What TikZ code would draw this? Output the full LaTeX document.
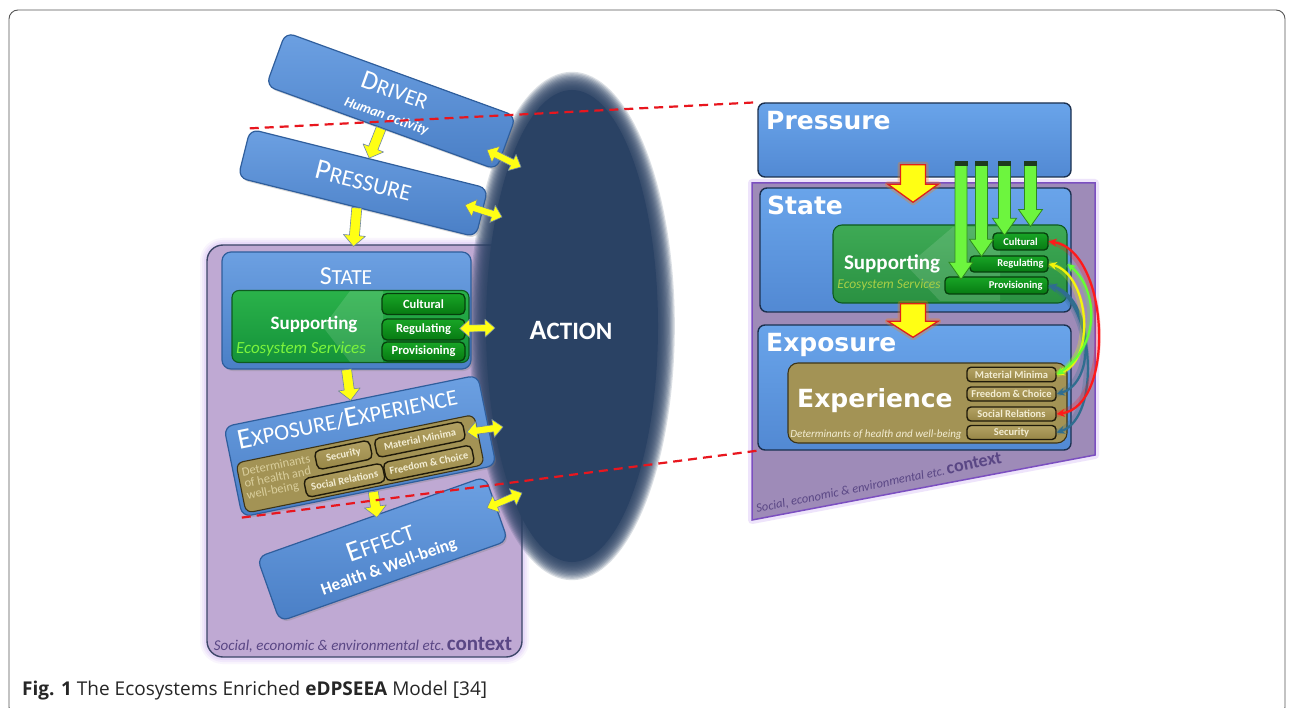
\documentclass[tikz,border=0pt]{standalone}
\usepackage{fontspec}
\setmainfont{Carlito}
\newfontfamily\dvb{DejaVu Sans}
\newfontfamily\capf{Open Sans}
\usetikzlibrary{arrows.meta,shadows,calc}
\newcommand\fsz[1]{\fontsize{#1}{#1}\selectfont}
\definecolor{framegray}{HTML}{555555}
\definecolor{lbtop}{HTML}{6CA0E2}
\definecolor{lbbot}{HTML}{4A7FC6}
\definecolor{lbdraw}{HTML}{2F5E9C}
\definecolor{rbtop}{HTML}{69A4EA}
\definecolor{rbbot}{HTML}{5289D3}
\definecolor{rbdraw}{HTML}{1C3150}
\definecolor{ctxfill}{HTML}{BFA9D3}
\definecolor{ctxdraw}{HTML}{3C4668}
\definecolor{ctxglow}{HTML}{C7A6F2}
\definecolor{ctxtext}{HTML}{5A4785}
\definecolor{rctxfill}{HTML}{9E8BB8}
\definecolor{rctxdraw}{HTML}{7B4FC0}
\definecolor{actblue}{HTML}{2A4264}
\definecolor{gtop}{HTML}{2AB24A}
\definecolor{gbot}{HTML}{14923A}
\definecolor{gdraw}{HTML}{0E5A20}
\definecolor{rgtop}{HTML}{3EAA55}
\definecolor{rgbot}{HTML}{2A9142}
\definecolor{gsubtop}{HTML}{18A526}
\definecolor{gsubbot}{HTML}{077A12}
\definecolor{gsubdraw}{HTML}{063F0C}
\definecolor{ecogreen}{HTML}{7CF53C}
\definecolor{recogreen}{HTML}{A8CF45}
\definecolor{tanfill}{HTML}{A39355}
\definecolor{tandraw}{HTML}{3D3417}
\definecolor{tansubtop}{HTML}{B3A264}
\definecolor{tansubbot}{HTML}{978646}
\definecolor{tansubdraw}{HTML}{1F1A0A}
\definecolor{tantext}{HTML}{F3EDD3}
\definecolor{detext}{HTML}{D9CE9C}
\definecolor{yarr}{HTML}{FFFF14}
\definecolor{yarrdraw}{HTML}{6F86A8}
\definecolor{bigyred}{HTML}{E0201A}
\definecolor{dashred}{HTML}{E8161E}
\definecolor{arrgreen}{HTML}{6DF53E}
\definecolor{arrgreendraw}{HTML}{2F8A1E}
\definecolor{capdark}{HTML}{1E3A1E}
\definecolor{cred}{HTML}{FF1A1A}
\definecolor{cyel}{HTML}{F5F50A}
\definecolor{cgreen}{HTML}{66FF33}
\definecolor{cteal}{HTML}{2F6D8F}
% block arrow: style, from, to, half shaft, half head, head length
\newcommand\barrow[6]{%
 \path[#1] let \p1=(#2), \p2=(#3), \n1={atan2(\y2-\y1,\x2-\x1)} in
 ($(\p1)+({\n1+90}:#4pt)$) --
 ($(\p2)+({\n1+180}:#6pt)+({\n1+90}:#4pt)$) --
 ($(\p2)+({\n1+180}:#6pt)+({\n1+90}:#5pt)$) --
 (\p2) --
 ($(\p2)+({\n1+180}:#6pt)+({\n1-90}:#5pt)$) --
 ($(\p2)+({\n1+180}:#6pt)+({\n1-90}:#4pt)$) --
 ($(\p1)+({\n1-90}:#4pt)$) -- cycle;}
% double block arrow
\newcommand\dbarrow[6]{%
 \path[#1] let \p1=(#2), \p2=(#3), \n1={atan2(\y2-\y1,\x2-\x1)} in
 (\p1) --
 ($(\p1)+(\n1:#6pt)+({\n1+90}:#5pt)$) --
 ($(\p1)+(\n1:#6pt)+({\n1+90}:#4pt)$) --
 ($(\p2)+({\n1+180}:#6pt)+({\n1+90}:#4pt)$) --
 ($(\p2)+({\n1+180}:#6pt)+({\n1+90}:#5pt)$) --
 (\p2) --
 ($(\p2)+({\n1+180}:#6pt)+({\n1-90}:#5pt)$) --
 ($(\p2)+({\n1+180}:#6pt)+({\n1-90}:#4pt)$) --
 ($(\p1)+(\n1:#6pt)+({\n1-90}:#4pt)$) --
 ($(\p1)+(\n1:#6pt)+({\n1-90}:#5pt)$) -- cycle;}
\begin{document}
\begin{tikzpicture}[x=1pt,y=-1pt,
 lbox/.style={draw=lbdraw, line width=1.2pt, rounded corners=9pt, top color=lbtop, bottom color=lbbot, inner sep=0pt, drop shadow={opacity=0.3,shadow xshift=1.5pt,shadow yshift=-2pt}},
 rbox/.style={draw=rbdraw, line width=1.4pt, rounded corners=7pt, top color=rbtop, bottom color=rbbot, inner sep=0pt},
 gbox/.style={draw=gdraw, line width=1.1pt, rounded corners=7pt, top color=gtop, bottom color=gbot, inner sep=0pt},
 rgbox/.style={draw=gdraw, line width=1.1pt, rounded corners=9pt, top color=rgtop, bottom color=rgbot, inner sep=0pt},
 gsub/.style={draw=gsubdraw, line width=1.3pt, rounded corners=5pt, top color=gsubtop, bottom color=gsubbot, inner sep=0pt, text=white, font={\bfseries\fsz{12.5}}},
 rgsub/.style={gsub, rounded corners=4pt, font={\bfseries\fsz{10.5}}},
 tanbox/.style={draw=tandraw, line width=1.1pt, rounded corners=7pt, fill=tanfill, inner sep=0pt},
 tansub/.style={draw=tansubdraw, line width=1.4pt, rounded corners=5pt, top color=tansubtop, bottom color=tansubbot, inner sep=0pt, text=tantext, font={\bfseries\fsz{10.5}}},
 rtansub/.style={tansub, rounded corners=4pt, font={\bfseries\fsz{10.5}}},
 wtxt/.style={text=white, inner sep=0pt},
 yarrow/.style={fill=yarr, draw=yarrdraw, line width=0.6pt, line join=round},
 bigy/.style={fill=yarr, draw=bigyred, line width=1.3pt},
 bigyglow/.style={draw=orange, line width=6pt, opacity=0.3, line join=round},
 garr/.style={fill=arrgreen, draw=arrgreendraw, line width=0.8pt},
 carrow/.style={line width=2.2pt, {Stealth[length=8pt,width=8pt]}-{Stealth[length=8pt,width=8pt]}},
 cglow/.style={line width=6pt, opacity=0.25},
 dashline/.style={draw=dashred, line width=2.2pt, dash pattern=on 9pt off 6pt}
]
\useasboundingbox (0,0) rectangle (1292,708);
\fill[white] (0,0) rectangle (1292,708);
\draw[framegray, line width=0.9pt, rounded corners=9pt] (9,10) rectangle (1285,716);

% ---------- left context ----------
\foreach \w/\o in {14/0.10, 10/0.14, 6/0.2}
  \draw[ctxglow, line width=\w pt, opacity=\o, rounded corners=16pt] (207,245) rectangle (522,657);
\node[draw=ctxdraw, line width=1.4pt, fill=ctxfill, rounded corners=16pt, minimum width=315pt, minimum height=412pt, inner sep=0pt] (lctx) at (364.5,451) {};
\node[anchor=base, text=ctxtext, inner sep=0pt] (lctxt) at (363,650) {{\itshape\fsz{15}Social, economic \& environmental etc.}~{\bfseries\fsz{21}context}};

% ---------- action ellipse ----------
\foreach \i in {14,...,1}
  \fill[actblue, opacity=0.17] (572,326) ellipse [x radius={(86+1.2*\i)*1pt}, y radius={(236+1.3*\i)*1pt}];
\fill[actblue] (572,326) ellipse [x radius=86pt, y radius=236pt];
\node[wtxt, anchor=base, font=\bfseries] (action) at (571,339) {{\fsz{28}A}{\fsz{25}CTION}};

% ---------- driver ----------
\begin{scope}[shift={(391,101)}, rotate=-20, transform shape]
 \node[lbox, minimum width=245pt, minimum height=57pt] (driver) at (0,0) {};
 \node[wtxt, anchor=base] at (0,-3) {{\fsz{27}D}{\fsz{22}RIVER}};
 \node[wtxt, anchor=base, font={\bfseries\itshape\fsz{14}}] at (1,20) {Human activity};
\end{scope}

% ---------- pressure ----------
\begin{scope}[shift={(363,183)}, rotate=-14, transform shape]
 \node[lbox, minimum width=245pt, minimum height=50pt] (lpress) at (0,0) {};
 \node[wtxt, anchor=base] at (0,7) {{\fsz{29}P}{\fsz{23}RESSURE}};
\end{scope}

% ---------- state ----------
\node[lbox, minimum width=249pt, minimum height=117pt] (lstate) at (346.5,310.5) {};
\node[wtxt, anchor=base] at (346,285) {{\fsz{26}S}{\fsz{21.5}TATE}};
\node[gbox, minimum width=237pt, minimum height=72pt] (lsup) at (350.5,326.5) {};
\fill[white, opacity=0.13] (383,291) -- (350,291) -- (323,327) -- (350,362) -- (383,362) -- cycle;
\node[wtxt, anchor=base, font={\bfseries\fsz{19}}] at (314,330) {Supporting};
\node[anchor=base, inner sep=0pt, text=ecogreen, font={\itshape\fsz{17}}] at (301,353) {Ecosystem Services};
\node[gsub, minimum width=83pt, minimum height=21pt] (lcult) at (423.5,304) {Cultural};
\node[gsub, minimum width=83pt, minimum height=21pt] (lreg) at (423.5,329.5) {Regulating};
\node[gsub, minimum width=83pt, minimum height=19pt] (lprov) at (423.5,351.5) {Provisioning};

% ---------- exposure / experience ----------
\begin{scope}[shift={(360,446)}, rotate=11.5, transform shape]
 \node[lbox, minimum width=259pt, minimum height=92pt] (lexp) at (0,0) {};
 \node[wtxt, anchor=base] at (-7,-21) {{\fsz{29}E}{\fsz{22.5}XPOSURE/}{\fsz{29}E}{\fsz{22.5}XPERIENCE}};
 \node[tanbox, minimum width=243pt, minimum height=51pt] (ltan) at (-3.5,17.5) {};
 \node[anchor=west, align=left, inner sep=0pt, text=detext, font={\fontsize{12.5}{12}\selectfont}] at (-121,15) {Determinants\\of health and\\well-being};
 \node[tansub, minimum width=56pt, minimum height=19pt] (lsec) at (-18,5.5) {Security};
 \node[tansub, minimum width=90pt, minimum height=19pt] (lmm) at (60,5.5) {Material Minima};
 \node[tansub, minimum width=80pt, minimum height=19pt] (lsoc) at (-22,30.5) {Social Relations};
 \node[tansub, minimum width=90pt, minimum height=19pt] (lfree) at (64,30.5) {Freedom \& Choice};
\end{scope}

% ---------- effect ----------
\begin{scope}[shift={(382.5,549)}, rotate=19.5, transform shape]
 \node[lbox, minimum width=242pt, minimum height=68pt] (leff) at (0,0) {};
 \node[wtxt, anchor=base] at (0,2) {{\fsz{29}E}{\fsz{23}FFECT}};
 \node[wtxt, anchor=base, font={\bfseries\fsz{17}}] at (0,24) {Health \& Well-being};
\end{scope}

% ---------- left arrows ----------
\barrow{yarrow}{driver.south}{lpress.north}{5}{11}{11}
\barrow{yarrow}{lpress.south}{$(lstate.north)+(7,-5)$}{5}{11}{11}
\barrow{yarrow}{lstate.south}{lexp.north}{5}{11}{11}
\barrow{yarrow}{$(lexp.south)+(4,0)$}{$(leff.north)+(6,1)$}{5}{11}{11}

\coordinate (dA1) at (487,150); \coordinate (dA2) at (521,167);
\coordinate (pA1) at (465,205); \coordinate (pA2) at (502,217);
\coordinate (rA1) at ($(lreg.east)+(-6,-1)$); \coordinate (rA2) at (495,328);
\coordinate (eA1) at (467,432); \coordinate (eA2) at (503,427);
\coordinate (fA1) at (487,508); \coordinate (fA2) at (522,493);
\dbarrow{yarrow}{dA1}{dA2}{3.5}{9}{10}
\dbarrow{yarrow}{pA1}{pA2}{3.5}{9}{10}
\dbarrow{yarrow}{rA1}{rA2}{3.5}{9}{10}
\dbarrow{yarrow}{eA1}{eA2}{3.5}{9}{10}
\dbarrow{yarrow}{fA1}{fA2}{3.5}{9}{10}

% ---------- right context ----------
\draw[ctxglow, line width=8pt, opacity=0.3, line join=round] (752,183) -- (1095,183) -- (1095,455) -- (752,520) -- cycle;
\fill[rctxfill] (752,183) -- (1095,183) -- (1095,455) -- (752,520) -- cycle;
\draw[rctxdraw, line width=1.5pt] (752,183) -- (1095,183) -- (1095,455) -- (752,520) -- cycle;
\node[rotate=11.5, anchor=base west, inner sep=0pt, text=ctxtext] (rctxt) at (757,513) {{\itshape\fsz{12.5}Social, economic \& environmental etc.}~{\bfseries\fsz{18}context}};

% ---------- right boxes ----------
\node[rbox, minimum width=313pt, minimum height=74pt] (rpress) at (914.5,140) {};
\node[wtxt, anchor=base west, font={\dvb\bfseries\fsz{25}}] at (766,130) {Pressure};

\node[rbox, minimum width=311pt, minimum height=124pt] (rstate) at (915.5,250) {};
\node[wtxt, anchor=base west, font={\dvb\bfseries\fsz{25}}] at (767,215) {State};
\node[rgbox, minimum width=234pt, minimum height=78pt] (rsup) at (950,264) {};
\fill[white, opacity=0.12] (1000,227) -- (953,227) -- (907,266) -- (940,301) -- (1000,301) -- cycle;
\node[wtxt, anchor=base, font={\bfseries\fsz{21}}] at (892,270) {Supporting};
\node[anchor=base, inner sep=0pt, text=recogreen, font={\itshape\fsz{13.5}}] at (889,289) {Ecosystem Services};
\node[rgsub, minimum width=55pt, minimum height=17pt] (rcult) at (1020.5,241.5) {Cultural};
\node[rgsub, minimum width=78pt, minimum height=16pt] (rreg) at (1009,264) {};
\node[wtxt, anchor=east, font={\bfseries\fsz{10.5}}] at ($(rreg.east)+(-5,0)$) {Regulating};
\node[rgsub, minimum width=103pt, minimum height=17pt] (rprov) at (996.5,285.5) {};
\node[wtxt, anchor=east, font={\bfseries\fsz{10.5}}] at ($(rprov.east)+(-6,0)$) {Provisioning};

% green arrows
\coordinate (ga) at (961,162); \coordinate (gb) at (981.5,162);
\coordinate (gc) at (1004.5,162); \coordinate (gd) at (1030.5,162);
\barrow{garr}{ga}{$(ga |- rprov.north)+(0,3)$}{6}{12}{17}
\barrow{garr}{gb}{$(gb |- rreg.north)+(0,1)$}{6}{12}{17}
\barrow{garr}{gc}{$(gc |- rcult.north)+(0,3)$}{6}{12}{17}
\barrow{garr}{gd}{$(gd |- rsup.north)+(0,2)$}{6}{12}{17}
\foreach \c in {ga,gb,gc,gd}
  \fill[capdark] ($(\c)+(-6.5,-1)$) rectangle ($(\c)+(6.5,4)$);

% big yellow arrow pressure -> state
\coordinate (ya) at ($(rpress.south)+(-1.5,-13)$);
\coordinate (yb) at ($(rstate.north)+(-2.5,15)$);
\barrow{bigyglow}{ya}{yb}{12.5}{25}{18}
\barrow{bigy}{ya}{yb}{12.5}{25}{18}

\node[rbox, minimum width=313pt, minimum height=125pt] (rexp) at (914.5,387.5) {};
\node[wtxt, anchor=base west, font={\dvb\bfseries\fsz{25}}] at (766,352) {Exposure};
\node[tanbox, rounded corners=10pt, minimum width=279pt, minimum height=80pt] (rtan) at (927.5,403) {};
\node[wtxt, anchor=base west, font={\dvb\bfseries\fsz{25}}] at (797,407) {Experience};
\node[anchor=base, inner sep=0pt, text=tantext, font={\itshape\fsz{11}}] at (876,437) {Determinants of health and well-being};
\node[rtansub, minimum width=89pt, minimum height=14.5pt] (rmm) at (1011.5,374.5) {Material Minima};
\node[rtansub, minimum width=89pt, minimum height=14pt] (rfree) at (1011.5,394) {Freedom \& Choice};
\node[rtansub, minimum width=89pt, minimum height=14pt] (rsoc) at (1011.5,414) {Social Relations};
\node[rtansub, minimum width=89pt, minimum height=14pt] (rsec) at (1011.5,432.5) {Security};

% big yellow arrow state -> exposure
\coordinate (yc) at ($(rstate.south)+(-2.5,-9)$);
\coordinate (yd) at ($(rexp.north)+(-1.5,13)$);
\barrow{bigyglow}{yc}{yd}{12.5}{25}{16}
\barrow{bigy}{yc}{yd}{12.5}{25}{16}

% curved links
\draw[cglow, cteal] (rprov.east) .. controls +(45,15) and +(45,-15) .. (rsec.east);
\draw[carrow, cteal] (rprov.east) .. controls +(45,15) and +(45,-15) .. (rsec.east);
\draw[cglow, cteal] (rprov.east) .. controls +(42,10) and +(42,-12) .. (rfree.east);
\draw[carrow, cteal] (rprov.east) .. controls +(42,10) and +(42,-12) .. (rfree.east);
\draw[cglow, cyel] (rreg.east) .. controls +(40,10) and +(40,-15) .. (rmm.east);
\draw[carrow, cyel] (rreg.east) .. controls +(40,10) and +(40,-15) .. (rmm.east);
\draw[cglow, cgreen] (rsup.east) .. controls +(30,25) and +(45,-30) .. (rmm.east);
\draw[carrow, cgreen] (rsup.east) .. controls +(30,25) and +(45,-30) .. (rmm.east);
\draw[cglow, cred] (rcult.east) .. controls +(60,8) and +(60,-8) .. (rsoc.east);
\draw[carrow, cred] (rcult.east) .. controls +(60,8) and +(60,-8) .. (rsoc.east);

% ---------- dashed zoom lines ----------
\draw[dashline] (lpress.north west) -- (rpress.north west);
\draw[dashline] (lexp.south west) -- (rexp.south west);

% ---------- caption ----------
\node[anchor=base west, inner sep=0pt, text=black!85, font={\capf\fsz{19}}] (caption) at (22,695) {\textbf{Fig. 1} The Ecosystems Enriched \textbf{eDPSEEA} Model [34]};
\end{tikzpicture}
\end{document}
